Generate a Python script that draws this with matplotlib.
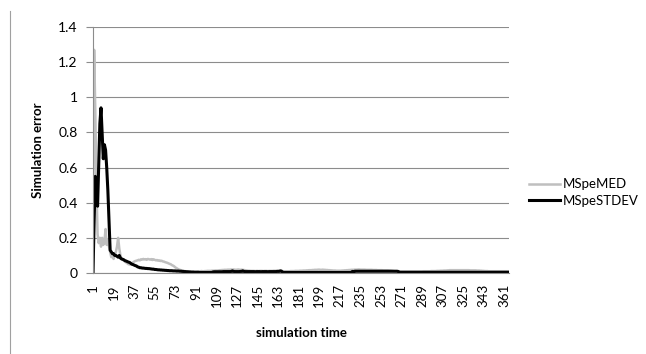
import numpy as np
import matplotlib.pyplot as plt
from matplotlib.lines import Line2D

# simulation error per time step
mspe_med = [
    0, 1.27, 0.92, 0.50, 0.22, 0.17, 0.20, 0.15, 0.20, 0.16, 0.18, 0.25, 0.16, 0.19, 0.15, 0.12, 0.09, 0.10, 0.08, 0.10,
    0.12, 0.15, 0.20, 0.14, 0.10, 0.08, 0.075, 0.07, 0.065, 0.06, 0.055, 0.05, 0.048, 0.05, 0.055, 0.06, 0.065, 0.068, 0.07, 0.072,
    0.075, 0.072, 0.078, 0.076, 0.080, 0.077, 0.079, 0.075, 0.080, 0.078, 0.076, 0.079, 0.074, 0.078, 0.075, 0.072, 0.074, 0.070, 0.072, 0.068,
    0.070, 0.066, 0.065, 0.062, 0.060, 0.058, 0.055, 0.052, 0.050, 0.045, 0.042, 0.038, 0.032, 0.028, 0.024, 0.020, 0.018, 0.016, 0.014, 0.012,
    0.011, 0.010, 0.010, 0.009, 0.009, 0.008, 0.008, 0.008, 0.008, 0.008, 0.009, 0.009, 0.010, 0.010, 0.010, 0.011, 0.010, 0.010, 0.011, 0.011,
    0.012, 0.012, 0.012, 0.012, 0.013, 0.013, 0.013, 0.014, 0.014, 0.014, 0.015, 0.016, 0.016, 0.017, 0.017, 0.018, 0.018, 0.018, 0.019, 0.019,
    0.019, 0.020, 0.019, 0.020, 0.019, 0.018, 0.019, 0.020, 0.019, 0.018, 0.019, 0.018, 0.017, 0.016, 0.015, 0.014, 0.013, 0.013, 0.012, 0.012,
    0.012, 0.012, 0.011, 0.012, 0.012, 0.011, 0.012, 0.012, 0.012, 0.011, 0.012, 0.012, 0.012, 0.011, 0.012, 0.012, 0.012, 0.012, 0.013, 0.013,
    0.013, 0.013, 0.014, 0.014, 0.015, 0.013, 0.010, 0.010, 0.010, 0.010, 0.010, 0.010, 0.010, 0.011, 0.011, 0.011, 0.011, 0.012, 0.012, 0.012,
    0.012, 0.013, 0.013, 0.013, 0.014, 0.014, 0.014, 0.015, 0.015, 0.016, 0.016, 0.016, 0.017, 0.017, 0.018, 0.018, 0.018, 0.019, 0.019, 0.018,
    0.018, 0.019, 0.018, 0.018, 0.017, 0.017, 0.016, 0.016, 0.015, 0.015, 0.014, 0.014, 0.014, 0.013, 0.013, 0.013, 0.013, 0.013, 0.014, 0.014,
    0.015, 0.015, 0.016, 0.016, 0.017, 0.017, 0.018, 0.018, 0.018, 0.019, 0.019, 0.019, 0.020, 0.020, 0.019, 0.019, 0.019, 0.019, 0.019, 0.018,
    0.018, 0.018, 0.018, 0.018, 0.018, 0.017, 0.017, 0.017, 0.017, 0.016, 0.016, 0.016, 0.016, 0.016, 0.015, 0.015, 0.015, 0.015, 0.015, 0.014,
    0.014, 0.013, 0.012, 0.011, 0.010, 0.010, 0.010, 0.010, 0.009, 0.009, 0.009, 0.009, 0.009, 0.009, 0.009, 0.009, 0.009, 0.009, 0.009, 0.009,
    0.009, 0.009, 0.009, 0.009, 0.009, 0.009, 0.009, 0.009, 0.009, 0.010, 0.010, 0.010, 0.010, 0.010, 0.010, 0.010, 0.011, 0.011, 0.011, 0.011,
    0.011, 0.012, 0.012, 0.012, 0.013, 0.013, 0.013, 0.014, 0.014, 0.014, 0.015, 0.015, 0.016, 0.016, 0.016, 0.016, 0.016, 0.016, 0.016, 0.016,
    0.016, 0.016, 0.016, 0.016, 0.016, 0.016, 0.016, 0.016, 0.016, 0.016, 0.015, 0.015, 0.015, 0.015, 0.015, 0.015, 0.014, 0.014, 0.014, 0.013,
    0.013, 0.012, 0.012, 0.011, 0.011, 0.011, 0.010, 0.010, 0.010, 0.010, 0.010, 0.010, 0.010, 0.010, 0.010, 0.010, 0.010, 0.010, 0.010, 0.010,
    0.010, 0.010, 0.010, 0.010, 0.010,
]

mspe_stdev = [
    0, 0.30, 0.55, 0.50, 0.38, 0.62, 0.85, 0.94, 0.80, 0.65, 0.73, 0.70, 0.60, 0.47, 0.30, 0.13, 0.12, 0.11, 0.11, 0.10,
    0.10, 0.095, 0.09, 0.10, 0.085, 0.08, 0.078, 0.075, 0.07, 0.068, 0.065, 0.062, 0.06, 0.055, 0.05, 0.048, 0.045, 0.042, 0.04, 0.035,
    0.033, 0.030, 0.030, 0.028, 0.028, 0.027, 0.026, 0.026, 0.025, 0.025, 0.024, 0.023, 0.022, 0.022, 0.020, 0.020, 0.019, 0.018, 0.018, 0.017,
    0.017, 0.016, 0.016, 0.015, 0.015, 0.014, 0.014, 0.013, 0.013, 0.013, 0.012, 0.012, 0.012, 0.011, 0.011, 0.011, 0.010, 0.010, 0.009, 0.009,
    0.008, 0.008, 0.007, 0.007, 0.006, 0.006, 0.005, 0.005, 0.005, 0.004, 0.004, 0.004, 0.004, 0.003, 0.003, 0.003, 0.003, 0.003, 0.003, 0.003,
    0.003, 0.003, 0.003, 0.003, 0.003, 0.006, 0.007, 0.007, 0.007, 0.007, 0.007, 0.007, 0.007, 0.007, 0.008, 0.008, 0.008, 0.008, 0.008, 0.008,
    0.008, 0.009, 0.012, 0.009, 0.008, 0.008, 0.008, 0.008, 0.008, 0.009, 0.009, 0.012, 0.009, 0.008, 0.008, 0.008, 0.008, 0.008, 0.008, 0.008,
    0.008, 0.008, 0.007, 0.008, 0.008, 0.008, 0.008, 0.007, 0.008, 0.008, 0.008, 0.008, 0.008, 0.007, 0.008, 0.008, 0.008, 0.008, 0.008, 0.008,
    0.008, 0.009, 0.009, 0.009, 0.012, 0.010, 0.004, 0.003, 0.003, 0.003, 0.003, 0.003, 0.003, 0.003, 0.003, 0.003, 0.003, 0.003, 0.003, 0.003,
    0.003, 0.003, 0.003, 0.003, 0.003, 0.003, 0.003, 0.003, 0.003, 0.003, 0.003, 0.003, 0.003, 0.003, 0.003, 0.003, 0.003, 0.003, 0.003, 0.003,
    0.003, 0.003, 0.003, 0.003, 0.003, 0.003, 0.003, 0.003, 0.003, 0.003, 0.003, 0.003, 0.003, 0.003, 0.003, 0.003, 0.003, 0.003, 0.003, 0.003,
    0.003, 0.003, 0.003, 0.003, 0.003, 0.003, 0.003, 0.009, 0.005, 0.010, 0.010, 0.010, 0.010, 0.010, 0.010, 0.010, 0.010, 0.010, 0.010, 0.010,
    0.010, 0.010, 0.010, 0.010, 0.010, 0.010, 0.010, 0.010, 0.010, 0.010, 0.010, 0.010, 0.010, 0.010, 0.010, 0.010, 0.010, 0.010, 0.010, 0.010,
    0.010, 0.010, 0.010, 0.010, 0.010, 0.010, 0.010, 0.009, 0.004, 0.004, 0.004, 0.004, 0.004, 0.004, 0.004, 0.004, 0.004, 0.004, 0.004, 0.004,
    0.004, 0.004, 0.004, 0.004, 0.004, 0.004, 0.004, 0.004, 0.004, 0.004, 0.004, 0.004, 0.004, 0.004, 0.004, 0.004, 0.004, 0.004, 0.004, 0.004,
    0.004, 0.004, 0.004, 0.004, 0.004, 0.004, 0.004, 0.004, 0.004, 0.004, 0.004, 0.004, 0.004, 0.004, 0.004, 0.004, 0.004, 0.004, 0.004, 0.004,
    0.004, 0.004, 0.004, 0.004, 0.004, 0.004, 0.004, 0.004, 0.004, 0.004, 0.004, 0.004, 0.004, 0.004, 0.004, 0.004, 0.004, 0.004, 0.004, 0.004,
    0.004, 0.004, 0.004, 0.004, 0.004, 0.004, 0.004, 0.004, 0.004, 0.004, 0.004, 0.004, 0.004, 0.004, 0.004, 0.004, 0.004, 0.004, 0.004, 0.004,
    0.004, 0.004, 0.004, 0.004, 0.004,
]

sim_time = np.arange(1, len(mspe_med) + 1)
x_ticks = list(range(1, 362, 18))
y_ticks = [0, 0.2, 0.4, 0.6, 0.8, 1.0, 1.2, 1.4]

plt.rcParams['font.family'] = ['Lato', 'DejaVu Sans']

fig = plt.figure(figsize=(6.46, 3.54), dpi=100)
ax = fig.add_axes([93 / 646, 1 - 273 / 354, (509 - 93) / 646, (273 - 27) / 354])

grid_c = '#8c8c8c'
ax.set_yticks(y_ticks)
ax.set_yticklabels(['%g' % v for v in y_ticks], fontsize=10)
ax.set_ylim(0, 1.4)
ax.set_xlim(1, 365)
ax.set_xticks(x_ticks)
ax.set_xticklabels([str(v) for v in x_ticks], rotation=90, fontsize=9.5)
ax.yaxis.grid(True, color=grid_c, linewidth=0.8)
ax.set_axisbelow(True)

for s in ['top', 'right']:
    ax.spines[s].set_visible(False)
ax.spines['left'].set_color(grid_c)
ax.spines['bottom'].set_color(grid_c)
ax.tick_params(axis='y', length=5, color=grid_c, pad=6)
ax.tick_params(axis='x', length=0, pad=8)

ax.plot(sim_time, mspe_med, color='#bfbfbf', linewidth=1.8, label='MSpeMED')
ax.plot(sim_time, mspe_stdev, color='black', linewidth=2.2, label='MSpeSTDEV')

ax.set_xlabel('simulation time', fontsize=9.5, fontweight='bold', labelpad=14)
ax.set_ylabel('Simulation error', fontsize=9.5, fontweight='bold', labelpad=10)

fig.legend(loc='upper left', bbox_to_anchor=(524 / 646, 1 - 173 / 354), frameon=False,
           fontsize=9.5, handlelength=2.3, handletextpad=0.2, labelspacing=0.35,
           borderaxespad=0)

# leftover frame edge from the source page
fig.add_artist(Line2D([10 / 646, 10 / 646], [0, 1 - 11 / 354], color='#a0a0a0', linewidth=0.8))

fig.savefig('out.png', dpi=100)
